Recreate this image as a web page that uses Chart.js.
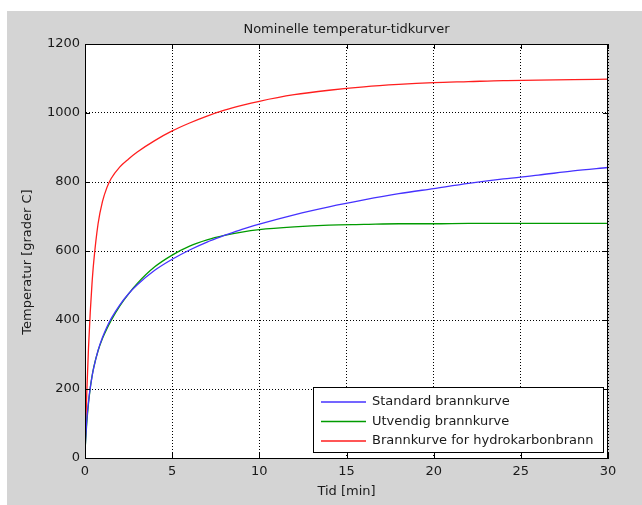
<!DOCTYPE html>
<html>
<head>
<meta charset="utf-8">
<script src="https://cdn.jsdelivr.net/npm/chart.js@4.4.1/dist/chart.umd.min.js"></script>
<style>
  html, body { margin: 0; padding: 0; background: #fff; }
  #wrap { width: 642px; height: 505px; }
</style>
</head>
<body>
<div id="wrap"><canvas id="fireChart" width="642" height="505"></canvas></div>
<script>
// tid [min]
const tid = [0, 0.1, 0.2, 0.3, 0.4, 0.5, 0.75, 1, 1.25, 1.5, 2, 2.5, 3, 4, 5, 6, 7, 8, 9, 10,
  12, 14, 16, 18, 20, 22, 24, 26, 28, 30];

// temperatur [grader C], lest av figuren
const standard = [20, 108, 163, 203, 235, 261, 312, 349, 379, 404, 444, 476, 502, 544, 576, 603, 626, 645, 663, 678,
  705, 728, 748, 766, 781, 796, 809, 820, 832, 842];
const utvendig = [20, 100, 158, 202, 236, 263, 311, 346, 374, 399, 441, 476, 506, 554, 588, 614, 632, 645, 655, 662,
  670, 675, 677, 679, 679, 680, 680, 680, 680, 680];
const hydrokarbon = [20, 187, 318, 422, 504, 568, 679, 743, 783, 810, 844, 867, 887, 920, 948, 971, 991, 1008, 1022, 1034,
  1053, 1066, 1076, 1083, 1088, 1091, 1094, 1095, 1097, 1098];

const seriesNames = ['Standard brannkurve', 'Utvendig brannkurve', 'Brannkurve for hydrokarbonbrann'];
const xTicks = [0, 5, 10, 15, 20, 25, 30];
const yTicks = [0, 200, 400, 600, 800, 1000, 1200];

const FONT = 'DejaVu Sans';
const TXT = '#1a1a1a';

function pts(ys) {
  return tid.map((t, i) => ({ x: t, y: ys[i] }));
}

// grey figure, white axes, box + ticks, title, legend, y label
const matlabLook = {
  id: 'matlabLook',
  beforeDraw(chart) {
    const { ctx, chartArea: a } = chart;
    ctx.save();
    ctx.fillStyle = '#ffffff';
    ctx.fillRect(0, 0, chart.width, chart.height);
    ctx.fillStyle = '#d4d4d4';
    ctx.fillRect(7, 11, chart.width - 7, chart.height - 11);
    ctx.fillStyle = '#ffffff';
    ctx.fillRect(a.left, a.top, a.right - a.left, a.bottom - a.top);
    ctx.restore();
  },
  afterDraw(chart) {
    const { ctx, chartArea: a, scales } = chart;
    ctx.save();
    ctx.strokeStyle = '#000';
    ctx.lineWidth = 1;
    ctx.strokeRect(a.left + 0.5, a.top + 0.5, a.right - a.left - 1, a.bottom - a.top);

    // inward tick marks on all four sides
    ctx.beginPath();
    xTicks.forEach(v => {
      const x = Math.round(scales.x.getPixelForValue(v)) + 0.5;
      ctx.moveTo(x, a.bottom); ctx.lineTo(x, a.bottom - 5);
      ctx.moveTo(x, a.top); ctx.lineTo(x, a.top + 5);
    });
    yTicks.forEach(v => {
      const y = Math.round(scales.y.getPixelForValue(v)) + 0.5;
      ctx.moveTo(a.left, y); ctx.lineTo(a.left + 5, y);
      ctx.moveTo(a.right, y); ctx.lineTo(a.right - 5, y);
    });
    ctx.stroke();

    ctx.fillStyle = TXT;
    ctx.font = '13px "' + FONT + '"';
    ctx.textAlign = 'center';
    ctx.textBaseline = 'middle';
    // title over the axes
    ctx.fillText('Nominelle temperatur-tidkurver', (a.left + a.right) / 2, 30);
    // y axis label
    ctx.translate(28, 262);
    ctx.rotate(-Math.PI / 2);
    ctx.fillText('Temperatur [grader C]', 0, 0);
    ctx.restore();

    // legend box, bottom right
    const lx = 313, ly = 387, lw = 290, lh = 65;
    ctx.save();
    ctx.fillStyle = '#fff';
    ctx.fillRect(lx, ly, lw, lh);
    ctx.strokeStyle = '#000';
    ctx.lineWidth = 1;
    ctx.strokeRect(lx + 0.5, ly + 0.5, lw, lh);
    ctx.font = '13px "' + FONT + '"';
    ctx.textAlign = 'left';
    ctx.textBaseline = 'middle';
    chart.data.datasets.forEach((ds, i) => {
      const y = ly + 15 + i * 19.5;
      ctx.strokeStyle = ds.borderColor;
      ctx.lineWidth = 1.3;
      ctx.beginPath();
      ctx.moveTo(lx + 8, y); ctx.lineTo(lx + 53, y);
      ctx.stroke();
      ctx.fillStyle = TXT;
      ctx.fillText(ds.label, lx + 59, y);
    });
    ctx.restore();
  }
};

const ctx = document.getElementById('fireChart').getContext('2d');
new Chart(ctx, {
  type: 'line',
  data: {
    datasets: [
      { label: seriesNames[0], data: pts(standard), borderColor: 'rgb(70,50,255)' },
      { label: seriesNames[1], data: pts(utvendig), borderColor: 'rgb(0,155,0)' },
      { label: seriesNames[2], data: pts(hydrokarbon), borderColor: 'rgb(255,30,30)' }
    ]
  },
  options: {
    responsive: false,
    animation: false,
    events: [],
    elements: {
      line: { borderWidth: 1.3, tension: 0.35, cubicInterpolationMode: 'monotone', fill: false },
      point: { radius: 0 }
    },
    layout: { padding: { left: 7, right: 34, top: 44, bottom: 0 } },
    plugins: {
      legend: { display: false },
      tooltip: { enabled: false },
      title: { display: false }
    },
    scales: {
      x: {
        type: 'linear',
        min: 0, max: 30,
        afterFit: s => { s.height = 47; },
        afterBuildTicks: s => { s.ticks = xTicks.map(v => ({ value: v })); },
        ticks: { color: TXT, font: { family: FONT, size: 13 }, padding: 6, maxRotation: 0, callback: v => String(v) },
        grid: { color: '#000', lineWidth: 1, drawTicks: false },
        border: { color: '#000', dash: [1, 2] },
        title: {
          display: true, text: 'Tid [min]', color: TXT,
          font: { family: FONT, size: 13, lineHeight: 1 },
          padding: { top: 0, bottom: 6.5 }
        }
      },
      y: {
        min: 0, max: 1200,
        afterFit: s => { s.width = 78; },
        afterBuildTicks: s => { s.ticks = yTicks.map(v => ({ value: v })); },
        ticks: { color: TXT, font: { family: FONT, size: 13 }, padding: 5, callback: v => String(v) },
        grid: { color: '#000', lineWidth: 1, drawTicks: false },
        border: { color: '#000', dash: [1, 2] }
      }
    }
  },
  plugins: [matlabLook]
});
</script>
</body>
</html>
